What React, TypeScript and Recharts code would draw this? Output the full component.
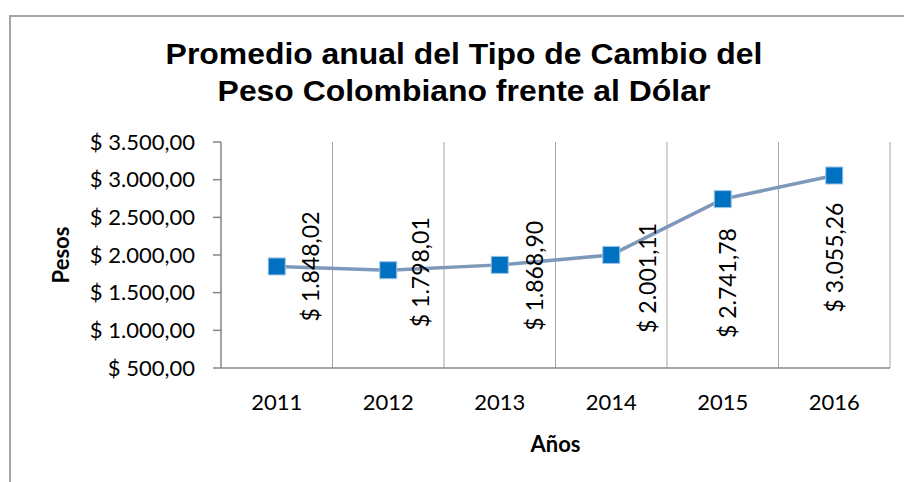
import React from 'react';
import { LineChart, Line, XAxis, YAxis, CartesianGrid, LabelList } from 'recharts';

const years = ['2011', '2012', '2013', '2014', '2015', '2016'];
const tasaPromedio = [1848.02, 1798.01, 1868.9, 2001.11, 2741.78, 3055.26];
const yTicks = [500, 1000, 1500, 2000, 2500, 3000, 3500];

const data = years.map((year, i) => ({ year, valor: tasaPromedio[i] }));

// las etiquetas del original están movidas a mano, una por una
const labelShift = [
  { dx: 33, dy: 0 },
  { dx: 32, dy: 2 },
  { dx: 34, dy: 11 },
  { dx: 36, dy: 23 },
  { dx: 4, dy: 84 },
  { dx: 0, dy: 82 },
];

const FONT = 'Lato, "Open Sans", sans-serif';
const AXIS = '#868686';

const pesos = (v: number) => {
  const [ent, dec] = v.toFixed(2).split('.');
  return '$ ' + ent.replace(/\B(?=(\d{3})+(?!\d))/g, '.') + ',' + dec;
};

const Cuadro = (props: any) => {
  const { cx, cy, index } = props;
  if (cx == null || cy == null) return null;
  return (
    <rect
      key={`dot-${index}`}
      x={cx - 8.5}
      y={cy - 8.5}
      width={17}
      height={17}
      fill="#0070C0"
      stroke="#9DC3E6"
      strokeWidth={1}
    />
  );
};

const Etiqueta = (props: any) => {
  const { value, index } = props;
  const x = props.x ?? props.viewBox?.x;
  const y = props.y ?? props.viewBox?.y;
  const s = labelShift[index] || { dx: 0, dy: 0 };
  const tx = x + s.dx;
  const ty = y + s.dy;
  return (
    <text
      x={tx}
      y={ty}
      transform={`rotate(-90 ${tx} ${ty})`}
      textAnchor="middle"
      dominantBaseline="central"
      fontFamily={FONT}
      fontSize={23}
      fill="#000"
    >
      {pesos(value)}
    </text>
  );
};

export default function App() {
  return (
    <div style={{ position: 'absolute', left: 0, top: 0, width: 904, height: 482, background: '#fff' }}>
      <div
        style={{
          position: 'absolute',
          left: 9,
          top: 15,
          width: 904 - 9,
          height: 482 - 15,
          borderTop: '2px solid #A6A6A6',
          borderLeft: '2px solid #A6A6A6',
          boxSizing: 'border-box',
        }}
      />
      <div
        style={{
          position: 'absolute',
          left: 0,
          top: 36,
          width: 928,
          textAlign: 'center',
          fontFamily: '"Liberation Sans", Arial, sans-serif',
          fontWeight: 'bold',
          fontSize: 29,
          lineHeight: '37px',
          color: '#000',
          transform: 'scaleX(1.1)',
          transformOrigin: '464px 0',
        }}
      >
        Promedio anual del Tipo de Cambio del
        <br />
        Peso Colombiano frente al Dólar
      </div>
      <div style={{ position: 'absolute', left: 0, top: 0 }}>
        <LineChart width={904} height={482} data={data} margin={{ top: 142, right: 14, bottom: 0, left: 0 }}>
          <CartesianGrid
            horizontal={false}
            stroke="#A6A6A6"
            strokeWidth={1}
            verticalCoordinatesGenerator={({ offset }: any) =>
              years.map((_, i) => offset.left + ((i + 1) * offset.width) / years.length)
            }
          />
          <XAxis
            dataKey="year"
            scale="band"
            height={114}
            axisLine={{ stroke: AXIS, strokeWidth: 1.5 }}
            tickLine={false}
            tickSize={0}
            tickMargin={26}
            tick={{ fill: '#000', fontSize: 22, fontFamily: FONT }}
            label={{
              value: 'Años',
              position: 'insideBottom',
              offset: 30,
              style: { fontFamily: FONT, fontSize: 22, fontWeight: 'bold', fill: '#000' },
            }}
          />
          <YAxis
            width={221}
            domain={[500, 3500]}
            ticks={yTicks}
            tickFormatter={pesos}
            axisLine={{ stroke: AXIS, strokeWidth: 1.5 }}
            tickLine={{ stroke: AXIS, strokeWidth: 1.5 }}
            tickSize={8}
            tickMargin={18}
            tick={{ fill: '#000', fontSize: 22, fontFamily: FONT }}
            label={{
              value: 'Pesos',
              angle: -90,
              position: 'insideLeft',
              offset: 61,
              style: { textAnchor: 'middle', fontFamily: FONT, fontSize: 22, fontWeight: 'bold', fill: '#000' },
            }}
          />
          <Line
            type="linear"
            dataKey="valor"
            stroke="#7E98BA"
            strokeWidth={3.5}
            dot={Cuadro}
            activeDot={false}
            isAnimationActive={false}
          >
            <LabelList dataKey="valor" content={Etiqueta} />
          </Line>
        </LineChart>
      </div>
    </div>
  );
}
